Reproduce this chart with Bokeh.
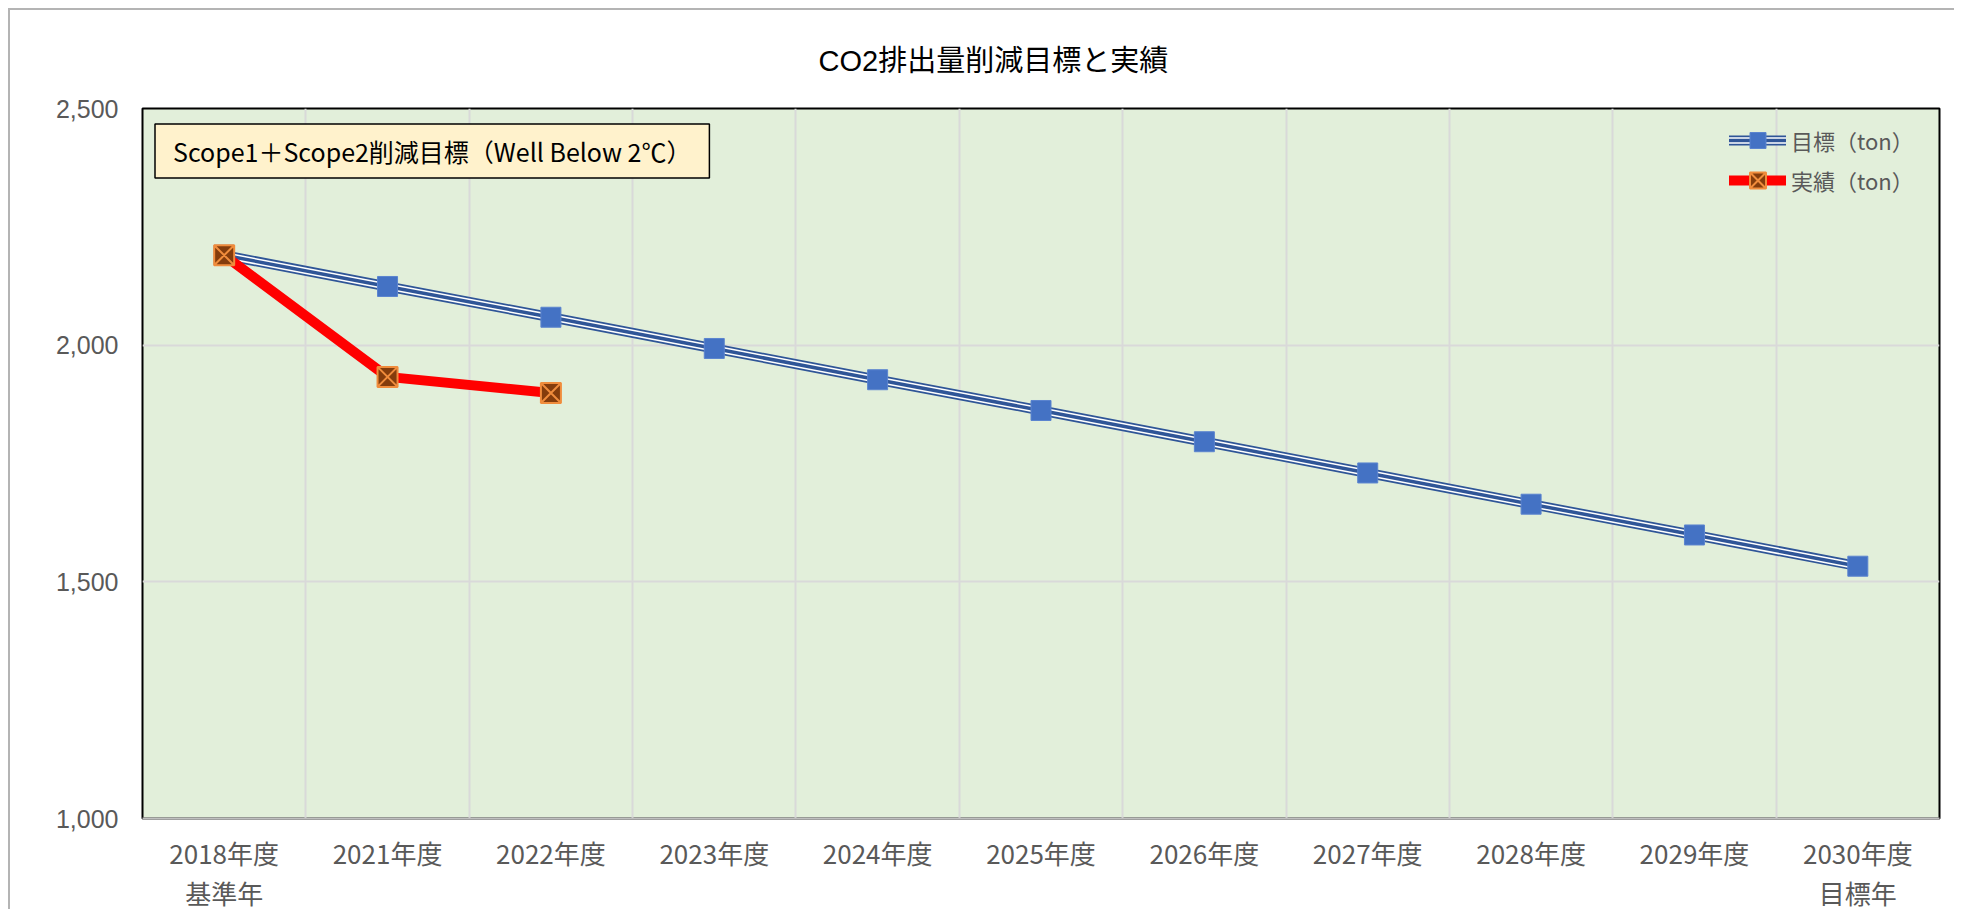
from bokeh.plotting import figure
from bokeh.models import (Range1d, FixedTicker, NumeralTickFormatter, Legend, LegendItem,
                          Label, ColumnDataSource)
from bokeh.embed import file_html
from bokeh.resources import INLINE

# ---- data ----
categories = ["2018年度", "2021年度", "2022年度", "2023年度", "2024年度", "2025年度",
              "2026年度", "2027年度", "2028年度", "2029年度", "2030年度"]
sub_labels = ["基準年", "", "", "", "", "", "", "", "", "", "目標年"]
target = [2190, 2124, 2059, 1993, 1927, 1862, 1796, 1730, 1664, 1599, 1533]
actual = [2190, 1933, 1899]
y_ticks = [1000, 1500, 2000, 2500]

title_text = "CO2排出量削減目標と実績"
box_text = "Scope1＋Scope2削減目標（Well Below 2℃）"
target_label = "目標（ton）"
actual_label = "実績（ton）"

JP = "Noto Sans CJK JP"

x_t = list(range(len(categories)))
x_a = list(range(len(actual)))
src_t = ColumnDataSource(dict(x=x_t, y=target))
src_a = ColumnDataSource(dict(x=x_a, y=actual))

FW, FH = 1797, 710
p = figure(frame_width=FW, frame_height=FH,
           x_range=Range1d(-0.5, len(categories) - 0.5),
           y_range=Range1d(y_ticks[0], y_ticks[-1]),
           output_backend="svg", toolbar_location=None,
           min_border_left=132, min_border_right=15, min_border_top=98, min_border_bottom=70)

p.styles = {"border-left": "2px solid #b4b4b4", "border-top": "2px solid #b4b4b4",
            "margin-left": "8px", "margin-top": "8px"}
p.background_fill_color = "#e2efda"
p.border_fill_color = "white"
p.outline_line_color = "black"
p.outline_line_width = 2

# title
p.title.text = title_text
p.title.align = "left"
p.title.offset = 676
p.title.vertical_align = "bottom"
p.title.standoff = 64
p.title.text_font = "Liberation Sans, Noto Sans CJK JP"
p.title.text_font_size = "29px"
p.title.text_font_style = "normal"
p.title.text_color = "black"

# x axis
p.xaxis.ticker = FixedTicker(ticks=x_t)
p.xaxis.major_label_overrides = {i: (c + ("\n" + s if s else "")) for i, (c, s) in enumerate(zip(categories, sub_labels))}
p.xaxis.axis_line_color = "#bfbfbf"
p.xaxis.axis_line_width = 2
p.xaxis.major_tick_line_color = None
p.xaxis.minor_tick_line_color = None
p.xaxis.major_label_standoff = 9
p.xaxis.major_label_text_font = JP
p.xaxis.major_label_text_font_size = "26px"
p.xaxis.major_label_text_color = "#595959"
p.xaxis.major_label_text_line_height = 1.1

# y axis
p.yaxis.ticker = FixedTicker(ticks=y_ticks)
p.yaxis.formatter = NumeralTickFormatter(format="0,0")
p.yaxis.axis_line_color = None
p.yaxis.major_tick_line_color = None
p.yaxis.minor_tick_line_color = None
p.yaxis.major_label_standoff = 18
p.yaxis.major_label_text_font = "Liberation Sans"
p.yaxis.major_label_text_font_size = "25px"
p.yaxis.major_label_text_color = "#595959"

# grids
p.xgrid.ticker = FixedTicker(ticks=[i + 0.5 for i in x_t[:-1]])
p.ygrid.ticker = FixedTicker(ticks=y_ticks[1:-1])
for g in (p.xgrid, p.ygrid):
    g.grid_line_color = "#d9d9d9"
    g.grid_line_width = 2

# target series (compound blue line)
t_outer = p.line("x", "y", source=src_t, line_color="#2f5597", line_width=10,
                 line_cap="round", line_join="round")
t_white = p.line("x", "y", source=src_t, line_color="white", line_width=6.5,
                 line_cap="round", line_join="round")
t_inner = p.line("x", "y", source=src_t, line_color="#2f5597", line_width=3.5,
                 line_cap="round", line_join="round")
t_mark = p.scatter("x", "y", source=src_t, marker="square", size=20,
                   fill_color="#4472c4", line_color="#5b84cf", line_width=1)

# actual series
a_line = p.line("x", "y", source=src_a, line_color="#ff0000", line_width=10,
                line_cap="round", line_join="round")
a_mark = p.scatter("x", "y", source=src_a, marker="square_x", size=20,
                   fill_color="#843c0c", line_color="#f08c3c", line_width=2)

legend = Legend(items=[LegendItem(label=target_label, renderers=[t_outer, t_white, t_inner, t_mark]),
                       LegendItem(label=actual_label, renderers=[a_line, a_mark])],
                location=(1587, 618), orientation="vertical",
                glyph_width=57, glyph_height=40, label_height=20, spacing=-2,
                label_standoff=5, padding=0, margin=0,
                background_fill_alpha=0, border_line_color=None,
                label_text_font=JP, label_text_font_size="22px", label_text_color="#595959")
p.add_layout(legend)

box = Label(x=12.5, y=694.5, x_units="screen", y_units="screen", text=box_text,
            anchor="top_left", text_font=JP, text_font_size="25px", text_color="black",
            background_fill_color="#fff2cc", border_line_color="black", border_line_width=1.5,
            padding=dict(left=18, right=18, top=9, bottom=9))
p.add_layout(box)

open("out.html", "w").write(file_html(p, INLINE))
